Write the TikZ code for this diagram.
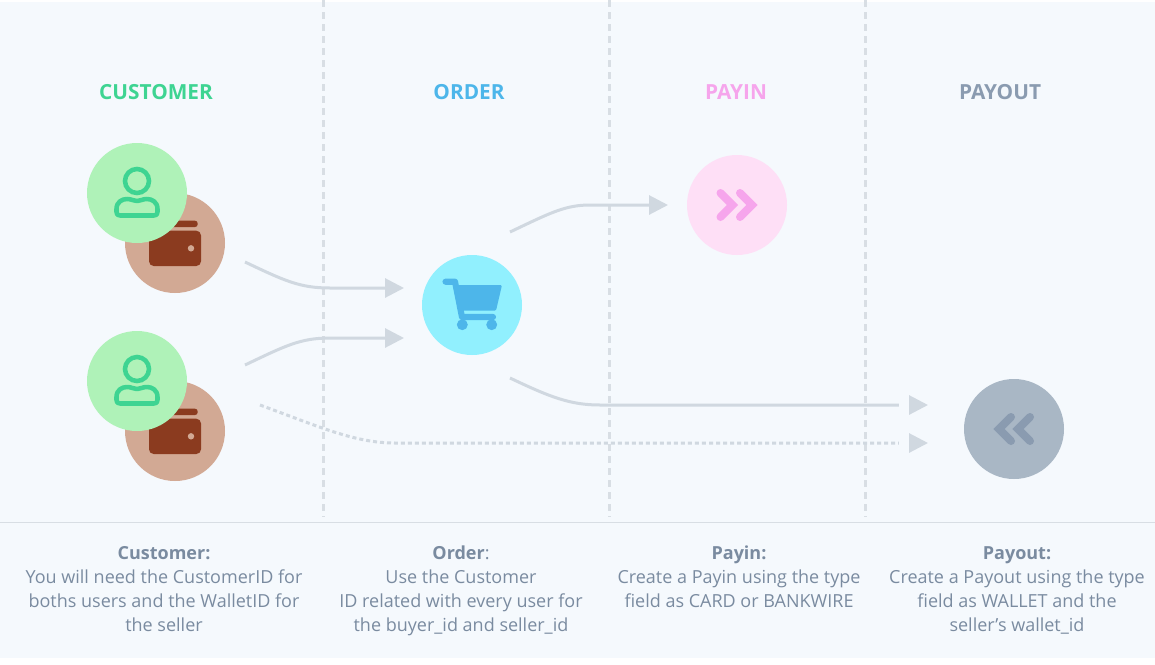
\documentclass[tikz,border=0pt]{standalone}
\usepackage{fontspec}
\setmainfont{Open Sans}
\usetikzlibrary{arrows.meta}
\definecolor{page-blue}{HTML}{F5F9FD}
\definecolor{rule-grey}{HTML}{D8DEE4}
\definecolor{flow-grey}{HTML}{D0D8E0}
\definecolor{text-grey}{HTML}{7A8BA0}
\definecolor{customer-green}{HTML}{3ED492}
\definecolor{customer-light}{HTML}{AFF2B8}
\definecolor{wallet-brown}{HTML}{8B3B1F}
\definecolor{wallet-light}{HTML}{D2A994}
\definecolor{order-blue}{HTML}{4DB6EA}
\definecolor{order-light}{HTML}{91F0FE}
\definecolor{payin-pink}{HTML}{F6A5EC}
\definecolor{payin-light}{HTML}{FEDFF6}
\definecolor{payout-grey}{HTML}{8A9BB0}
\definecolor{payout-light}{HTML}{A9B7C5}
\tikzset{
	disc/.style={circle, minimum size=75pt, inner sep=0pt, outer sep=0pt},
	heading/.style={font=\fontsize{15.6}{18}\selectfont\bfseries},
	caption/.style={anchor=north, align=center, text=text-grey, font=\fontsize{13.5}{18}\selectfont},
	column/.style={rule-grey, line width=2.25pt, dash pattern=on 5.25pt off 3.75pt},
	flow/.style={flow-grey, line width=2.25pt, -{Triangle[length=14.25pt,width=14.25pt]}},
	gapflow/.style={flow-grey, line width=2.25pt, -{Rectangle[length=7.5pt,width=3.5pt,sep=0pt,color=page-blue,fill=page-blue]Triangle[length=14.25pt,width=14.25pt,sep=0pt]}},
	walleticon/.pic={
		\fill[wallet-brown, rounded corners=3.5pt] (-26,-12.3) rectangle (26,23);
		\fill[wallet-brown, rounded corners=2pt] (-14,-22.3) rectangle (22.7,-16);
		\fill[wallet-light] (16,5.3) circle (2.4pt);
	},
	personicon/.pic={
		\draw[customer-green, line width=3.4pt] (0,-12) circle (9pt);
		\draw[customer-green, line width=3.4pt, line join=round] (-20.5,19) .. controls (-20.5,21.5) and (-19.5,22.5) .. (-17,22.5) -- (17,22.5) .. controls (19.5,22.5) and (20.5,21.5) .. (20.5,19) -- (20.5,16) .. controls (20.5,9) and (15,6) .. (10,6) .. controls (5,6) and (4,8) .. (0,8) .. controls (-4,8) and (-5,6) .. (-10,6) .. controls (-15,6) and (-20.5,9) .. (-20.5,16) -- cycle;
	},
}
\begin{document}
\begin{tikzpicture}[x=0.75pt, y=-0.75pt]
	\useasboundingbox (0,0) rectangle (1155,664);
	\fill[white] (0,0) rectangle (1155,664);
	\fill[page-blue] (0,2) rectangle (1155,658);

	% Draw the column separators
	\foreach \colx in {323,609,865}
		\draw[column] (\colx,0) -- (\colx,517);
	\draw[rule-grey, line width=0.75pt] (0,522) -- (1155,522);

	% Draw the column headings
	\node (customerhead) [heading, text=customer-green] at (156,92) {CUSTOMER};
	\node (orderhead) [heading, text=order-blue] at (469,92) {ORDER};
	\node (payinhead) [heading, text=payin-pink] at (736,92) {PAYIN};
	\node (payouthead) [heading, text=payout-grey] at (1000,92) {PAYOUT};

	% Draw the two customers with their wallets
	\node (walletone) [disc, fill=wallet-light] at (175,243) {};
	\pic at (walletone) {walleticon};
	\node (userone) [disc, fill=customer-light] at (137,193) {};
	\pic at (userone) {personicon};
	\node (wallettwo) [disc, fill=wallet-light] at (175,431) {};
	\pic at (wallettwo) {walleticon};
	\node (usertwo) [disc, fill=customer-light] at (137,381) {};
	\pic at (usertwo) {personicon};

	% Draw the order with its cart
	\node (order) [disc, fill=order-light] at (472,305) {};
	\begin{scope}[shift={(order)}]
		\fill[order-blue, rounded corners=1pt] (-18.7,-20) -- (30,-20) -- (24,5.7) -- (-12,5.7) -- cycle;
		\draw[order-blue, line width=4.6pt, line cap=round, line join=round] (-26.5,-23.3) -- (-17,-23.3) -- (-10,12) -- (21,12);
		\fill[order-blue] (-9.7,19.7) circle (4.1pt);
		\fill[order-blue] (19.7,19.7) circle (4.1pt);
	\end{scope}

	% Draw the payin
	\node (payin) [disc, fill=payin-light] at (737,205) {};
	\draw[payin-pink, line width=6pt, line cap=round] ([shift={(-16.5,-12)}]payin.center) -- ([shift={(-4.5,0)}]payin.center) -- ([shift={(-16.5,12)}]payin.center);
	\draw[payin-pink, line width=6pt, line cap=round] ([shift={(3,-12)}]payin.center) -- ([shift={(15,0)}]payin.center) -- ([shift={(3,12)}]payin.center);

	% Draw the payout
	\node (payout) [disc, fill=payout-light] at (1014,429) {};
	\draw[payout-grey, line width=6pt, line cap=round] ([shift={(-3,-12)}]payout.center) -- ([shift={(-15,0)}]payout.center) -- ([shift={(-3,12)}]payout.center);
	\draw[payout-grey, line width=6pt, line cap=round] ([shift={(16,-12)}]payout.center) -- ([shift={(4,0)}]payout.center) -- ([shift={(16,12)}]payout.center);

	% Free ends of the connectors
	\coordinate (outone) at (245,262);
	\coordinate (outtwo) at (245,365);
	\coordinate (outdirect) at (260,405);
	\coordinate (inone) at (404,288);
	\coordinate (intwo) at (404,338);
	\coordinate (outpayin) at (510,232);
	\coordinate (inpayin) at (668,205);
	\coordinate (outpayout) at (510,378);
	\coordinate (inpayout) at (928,405);
	\coordinate (indirect) at (928,443);

	% Connect the blocks with arrows
	\draw[flow] (outone) .. controls (285,281) and (300,288) .. (330,288) -- (inone);
	\draw[flow] (outtwo) .. controls (285,346) and (300,338) .. (330,338) -- (intwo);
	\draw[flow] (outpayin) .. controls (550,213) and (565,205) .. (590,205) -- (inpayin);
	\draw[gapflow] (outpayout) .. controls (550,397) and (570,405) .. (600,405) -- (inpayout);
	\draw[gapflow, dash pattern=on 3pt off 2.25pt] (outdirect) .. controls (320,427) and (355,443) .. (395,443) -- (indirect);

	% Draw the captions
	\node (customertext) [caption] at (164,542) {\textbf{Customer:}\\You will need the CustomerID for\\boths users and the WalletID for\\the seller};
	\node (ordertext) [caption] at (461,541.5) {\textbf{Order}:\\Use the Customer\\ID related with every user for\\the buyer\_id and seller\_id};
	\node (payintext) [caption] at (739,541) {\textbf{Payin:}\\Create a Payin using the type\\field as CARD or BANKWIRE};
	\node (payouttext) [caption] at (1017,542) {\textbf{Payout:}\\Create a Payout using the type\\field as WALLET and the\\seller’s wallet\_id};
\end{tikzpicture}
\end{document}
